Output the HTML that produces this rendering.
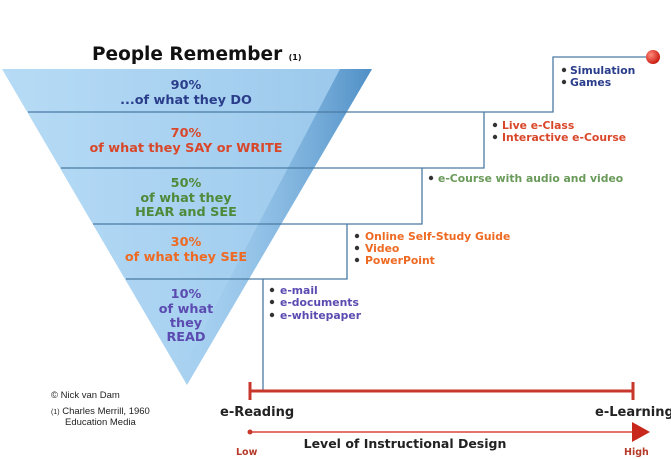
<!DOCTYPE html>
<html><head><meta charset="utf-8"><style>
html,body{margin:0;padding:0;background:#fff;}
svg{display:block;font-family:"DejaVu Sans","Liberation Sans",sans-serif;font-weight:bold;}
</style></head><body>
<svg width="671" height="459" viewBox="0 0 671 459" xmlns="http://www.w3.org/2000/svg">
<defs>
<linearGradient id="tg" x1="0" y1="0" x2="1" y2="0">
<stop offset="0" stop-color="#b6dbf5"/><stop offset="0.6" stop-color="#a6d0f0"/><stop offset="1" stop-color="#98c6ea"/>
</linearGradient>
<linearGradient id="eg" x1="0" y1="0" x2="1" y2="0">
<stop offset="0" stop-color="#98c6ea" stop-opacity="0"/><stop offset="1" stop-color="#4f8fc6"/>
</linearGradient>
<radialGradient id="rd" cx="0.35" cy="0.35" r="0.7"><stop offset="0" stop-color="#ff8a7a"/><stop offset="1" stop-color="#c8160c"/></radialGradient>
</defs>
<text x="92" y="60" font-size="18.5" fill="#111">People Remember <tspan font-size="8">(1)</tspan></text>
<polygon points="2,69 372,69 187,385" fill="url(#tg)"/>
<polygon points="340,69 372,69 187,385 180,373" fill="url(#eg)"/>
<g stroke="#4a7ba3" stroke-width="1.3" fill="none">
<polyline points="28,112 553,112 553,57 650,57"/>
<polyline points="61,168 484,168 484,112"/>
<polyline points="93,224 422,224 422,168"/>
<polyline points="126,279 347,279 347,224"/>
<line x1="263" y1="279" x2="263" y2="392"/>
</g>
<circle cx="653" cy="57" r="7" fill="url(#rd)"/>
<g font-size="12.8" text-anchor="middle">
<text x="186" y="89" fill="#2a3d8a">90%</text>
<text x="186" y="104" fill="#2a3d8a">...of what they DO</text>
<text x="186" y="137" fill="#d9472a">70%</text>
<text x="186" y="152" fill="#d9472a">of what they SAY or WRITE</text>
<text x="186" y="187" fill="#4e8a3a">50%</text>
<text x="186" y="202" fill="#4e8a3a">of what they</text>
<text x="186" y="216" fill="#4e8a3a">HEAR and SEE</text>
<text x="186" y="246" fill="#ee6a22">30%</text>
<text x="186" y="261" fill="#ee6a22">of what they SEE</text>
<text x="186" y="298" fill="#5b4bb0">10%</text>
<text x="186" y="313" fill="#5b4bb0">of what</text>
<text x="186" y="327" fill="#5b4bb0">they</text>
<text x="186" y="341" fill="#5b4bb0">READ</text>
</g>
<g font-size="10.8">
<g fill="#2a3d8a"><text x="570" y="74">Simulation</text><text x="570" y="86">Games</text></g>
<g fill="#d9472a"><text x="502" y="129">Live e-Class</text><text x="502" y="141">Interactive e-Course</text></g>
<text x="438" y="182" fill="#6a9a5a">e-Course with audio and video</text>
<g fill="#ee6a22"><text x="365" y="240">Online Self-Study Guide</text><text x="365" y="252">Video</text><text x="365" y="264">PowerPoint</text></g>
<g fill="#5b4bb0"><text x="280" y="294">e-mail</text><text x="280" y="306">e-documents</text><text x="280" y="319">e-whitepaper</text></g>
</g>
<g fill="#333">
<circle cx="564" cy="70" r="2.2"/><circle cx="564" cy="82" r="2.2"/>
<circle cx="495" cy="125" r="2.2"/><circle cx="495" cy="137" r="2.2"/>
<circle cx="431" cy="178" r="2.2"/>
<circle cx="357" cy="236" r="2.2"/><circle cx="357" cy="248" r="2.2"/><circle cx="357" cy="260" r="2.2"/>
<circle cx="272" cy="290" r="2.2"/><circle cx="272" cy="302" r="2.2"/><circle cx="272" cy="315" r="2.2"/>
</g>
<g stroke="#c8372c" stroke-width="3">
<line x1="250" y1="391" x2="633" y2="391"/>
<line x1="250" y1="382" x2="250" y2="400"/>
<line x1="633" y1="382" x2="633" y2="400"/>
</g>
<line x1="250" y1="432" x2="635" y2="432" stroke="#d9473a" stroke-width="1.5"/>
<circle cx="250" cy="432" r="2.5" fill="#c8372c"/>
<polygon points="632,422 650,432 632,442" fill="#c8271c"/>
<text x="220" y="416" font-size="13" fill="#222">e-Reading</text>
<text x="595" y="416" font-size="13" fill="#222">e-Learning</text>
<text x="405" y="448" font-size="12.5" fill="#222" text-anchor="middle">Level of Instructional Design</text>
<text x="236" y="455" font-size="9.5" fill="#b53a2a">Low</text>
<text x="624" y="455" font-size="9.5" fill="#b53a2a">High</text>
<g font-family="Liberation Sans,sans-serif" font-weight="normal" fill="#222">
<text x="51" y="398" font-size="9.5">© Nick van Dam</text>
<text x="51" y="414" font-size="9.5"><tspan font-size="7">(1)</tspan> Charles Merrill, 1960</text>
<text x="65" y="425" font-size="9.5">Education Media</text>
</g>
</svg>
</body></html>
